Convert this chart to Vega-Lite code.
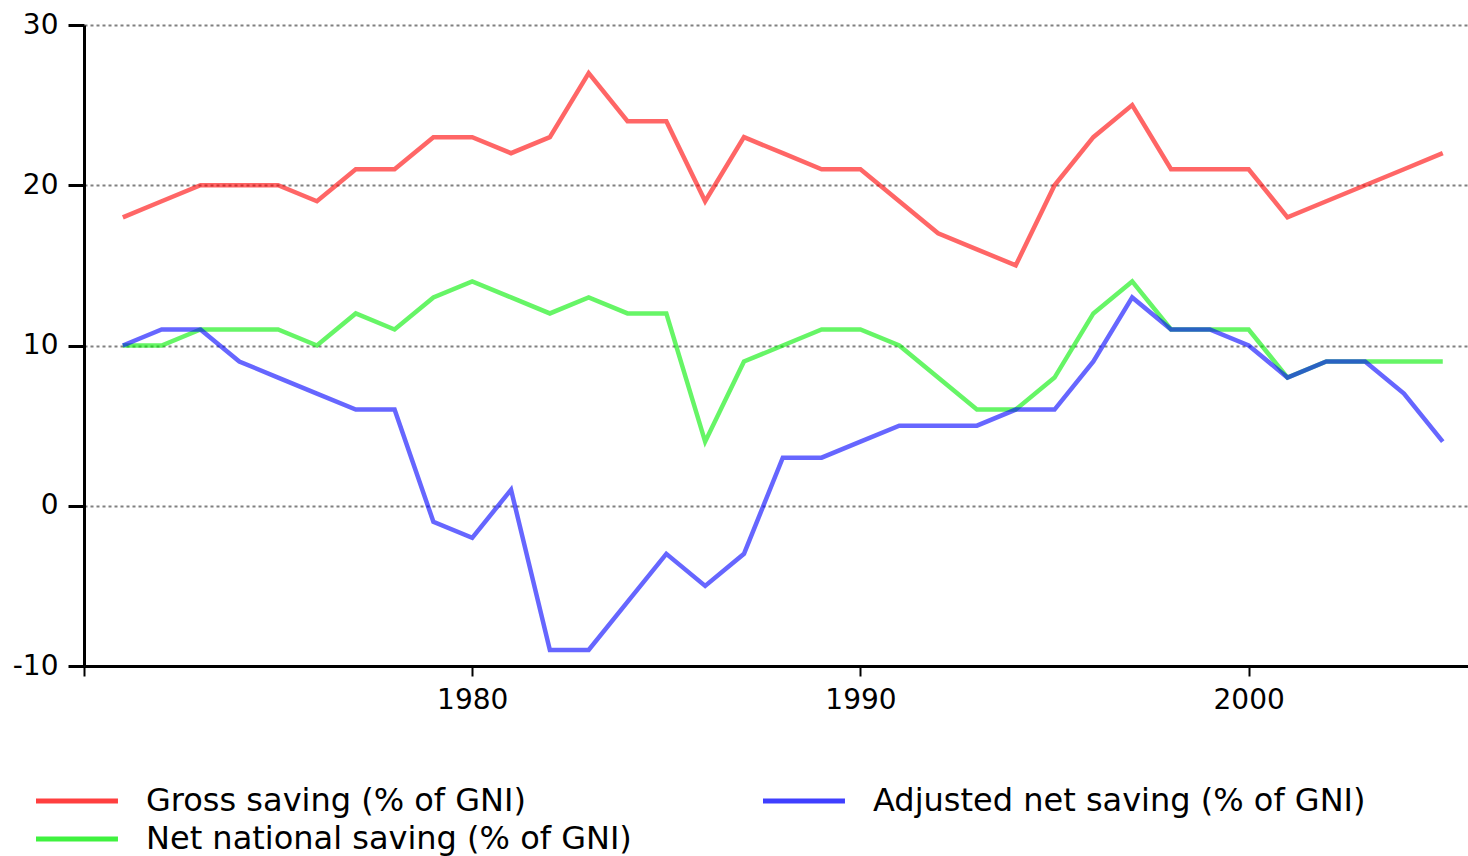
{
  "$schema": "https://vega.github.io/schema/vega-lite/v6.json",
  "width": 1384,
  "height": 641,
  "autosize": {"type": "none"},
  "padding": {"left": 84, "top": 25, "right": 0, "bottom": 190},
  "background": "white",
  "config": {
    "view": {"stroke": null},
    "font": "DejaVu Sans"
  },
  "datasets": {
    "saving": [
      {"year": 1971, "series": "Gross saving (% of GNI)", "value": 18},
      {"year": 1972, "series": "Gross saving (% of GNI)", "value": 19},
      {"year": 1973, "series": "Gross saving (% of GNI)", "value": 20},
      {"year": 1974, "series": "Gross saving (% of GNI)", "value": 20},
      {"year": 1975, "series": "Gross saving (% of GNI)", "value": 20},
      {"year": 1976, "series": "Gross saving (% of GNI)", "value": 19},
      {"year": 1977, "series": "Gross saving (% of GNI)", "value": 21},
      {"year": 1978, "series": "Gross saving (% of GNI)", "value": 21},
      {"year": 1979, "series": "Gross saving (% of GNI)", "value": 23},
      {"year": 1980, "series": "Gross saving (% of GNI)", "value": 23},
      {"year": 1981, "series": "Gross saving (% of GNI)", "value": 22},
      {"year": 1982, "series": "Gross saving (% of GNI)", "value": 23},
      {"year": 1983, "series": "Gross saving (% of GNI)", "value": 27},
      {"year": 1984, "series": "Gross saving (% of GNI)", "value": 24},
      {"year": 1985, "series": "Gross saving (% of GNI)", "value": 24},
      {"year": 1986, "series": "Gross saving (% of GNI)", "value": 19},
      {"year": 1987, "series": "Gross saving (% of GNI)", "value": 23},
      {"year": 1988, "series": "Gross saving (% of GNI)", "value": 22},
      {"year": 1989, "series": "Gross saving (% of GNI)", "value": 21},
      {"year": 1990, "series": "Gross saving (% of GNI)", "value": 21},
      {"year": 1991, "series": "Gross saving (% of GNI)", "value": 19},
      {"year": 1992, "series": "Gross saving (% of GNI)", "value": 17},
      {"year": 1993, "series": "Gross saving (% of GNI)", "value": 16},
      {"year": 1994, "series": "Gross saving (% of GNI)", "value": 15},
      {"year": 1995, "series": "Gross saving (% of GNI)", "value": 20},
      {"year": 1996, "series": "Gross saving (% of GNI)", "value": 23},
      {"year": 1997, "series": "Gross saving (% of GNI)", "value": 25},
      {"year": 1998, "series": "Gross saving (% of GNI)", "value": 21},
      {"year": 1999, "series": "Gross saving (% of GNI)", "value": 21},
      {"year": 2000, "series": "Gross saving (% of GNI)", "value": 21},
      {"year": 2001, "series": "Gross saving (% of GNI)", "value": 18},
      {"year": 2002, "series": "Gross saving (% of GNI)", "value": 19},
      {"year": 2003, "series": "Gross saving (% of GNI)", "value": 20},
      {"year": 2004, "series": "Gross saving (% of GNI)", "value": 21},
      {"year": 2005, "series": "Gross saving (% of GNI)", "value": 22},

      {"year": 1971, "series": "Net national saving (% of GNI)", "value": 10},
      {"year": 1972, "series": "Net national saving (% of GNI)", "value": 10},
      {"year": 1973, "series": "Net national saving (% of GNI)", "value": 11},
      {"year": 1974, "series": "Net national saving (% of GNI)", "value": 11},
      {"year": 1975, "series": "Net national saving (% of GNI)", "value": 11},
      {"year": 1976, "series": "Net national saving (% of GNI)", "value": 10},
      {"year": 1977, "series": "Net national saving (% of GNI)", "value": 12},
      {"year": 1978, "series": "Net national saving (% of GNI)", "value": 11},
      {"year": 1979, "series": "Net national saving (% of GNI)", "value": 13},
      {"year": 1980, "series": "Net national saving (% of GNI)", "value": 14},
      {"year": 1981, "series": "Net national saving (% of GNI)", "value": 13},
      {"year": 1982, "series": "Net national saving (% of GNI)", "value": 12},
      {"year": 1983, "series": "Net national saving (% of GNI)", "value": 13},
      {"year": 1984, "series": "Net national saving (% of GNI)", "value": 12},
      {"year": 1985, "series": "Net national saving (% of GNI)", "value": 12},
      {"year": 1986, "series": "Net national saving (% of GNI)", "value": 4},
      {"year": 1987, "series": "Net national saving (% of GNI)", "value": 9},
      {"year": 1988, "series": "Net national saving (% of GNI)", "value": 10},
      {"year": 1989, "series": "Net national saving (% of GNI)", "value": 11},
      {"year": 1990, "series": "Net national saving (% of GNI)", "value": 11},
      {"year": 1991, "series": "Net national saving (% of GNI)", "value": 10},
      {"year": 1992, "series": "Net national saving (% of GNI)", "value": 8},
      {"year": 1993, "series": "Net national saving (% of GNI)", "value": 6},
      {"year": 1994, "series": "Net national saving (% of GNI)", "value": 6},
      {"year": 1995, "series": "Net national saving (% of GNI)", "value": 8},
      {"year": 1996, "series": "Net national saving (% of GNI)", "value": 12},
      {"year": 1997, "series": "Net national saving (% of GNI)", "value": 14},
      {"year": 1998, "series": "Net national saving (% of GNI)", "value": 11},
      {"year": 1999, "series": "Net national saving (% of GNI)", "value": 11},
      {"year": 2000, "series": "Net national saving (% of GNI)", "value": 11},
      {"year": 2001, "series": "Net national saving (% of GNI)", "value": 8},
      {"year": 2002, "series": "Net national saving (% of GNI)", "value": 9},
      {"year": 2003, "series": "Net national saving (% of GNI)", "value": 9},
      {"year": 2004, "series": "Net national saving (% of GNI)", "value": 9},
      {"year": 2005, "series": "Net national saving (% of GNI)", "value": 9},

      {"year": 1971, "series": "Adjusted net saving (% of GNI)", "value": 10},
      {"year": 1972, "series": "Adjusted net saving (% of GNI)", "value": 11},
      {"year": 1973, "series": "Adjusted net saving (% of GNI)", "value": 11},
      {"year": 1974, "series": "Adjusted net saving (% of GNI)", "value": 9},
      {"year": 1975, "series": "Adjusted net saving (% of GNI)", "value": 8},
      {"year": 1976, "series": "Adjusted net saving (% of GNI)", "value": 7},
      {"year": 1977, "series": "Adjusted net saving (% of GNI)", "value": 6},
      {"year": 1978, "series": "Adjusted net saving (% of GNI)", "value": 6},
      {"year": 1979, "series": "Adjusted net saving (% of GNI)", "value": -1},
      {"year": 1980, "series": "Adjusted net saving (% of GNI)", "value": -2},
      {"year": 1981, "series": "Adjusted net saving (% of GNI)", "value": 1},
      {"year": 1982, "series": "Adjusted net saving (% of GNI)", "value": -9},
      {"year": 1983, "series": "Adjusted net saving (% of GNI)", "value": -9},
      {"year": 1984, "series": "Adjusted net saving (% of GNI)", "value": -6},
      {"year": 1985, "series": "Adjusted net saving (% of GNI)", "value": -3},
      {"year": 1986, "series": "Adjusted net saving (% of GNI)", "value": -5},
      {"year": 1987, "series": "Adjusted net saving (% of GNI)", "value": -3},
      {"year": 1988, "series": "Adjusted net saving (% of GNI)", "value": 3},
      {"year": 1989, "series": "Adjusted net saving (% of GNI)", "value": 3},
      {"year": 1990, "series": "Adjusted net saving (% of GNI)", "value": 4},
      {"year": 1991, "series": "Adjusted net saving (% of GNI)", "value": 5},
      {"year": 1992, "series": "Adjusted net saving (% of GNI)", "value": 5},
      {"year": 1993, "series": "Adjusted net saving (% of GNI)", "value": 5},
      {"year": 1994, "series": "Adjusted net saving (% of GNI)", "value": 6},
      {"year": 1995, "series": "Adjusted net saving (% of GNI)", "value": 6},
      {"year": 1996, "series": "Adjusted net saving (% of GNI)", "value": 9},
      {"year": 1997, "series": "Adjusted net saving (% of GNI)", "value": 13},
      {"year": 1998, "series": "Adjusted net saving (% of GNI)", "value": 11},
      {"year": 1999, "series": "Adjusted net saving (% of GNI)", "value": 11},
      {"year": 2000, "series": "Adjusted net saving (% of GNI)", "value": 10},
      {"year": 2001, "series": "Adjusted net saving (% of GNI)", "value": 8},
      {"year": 2002, "series": "Adjusted net saving (% of GNI)", "value": 9},
      {"year": 2003, "series": "Adjusted net saving (% of GNI)", "value": 9},
      {"year": 2004, "series": "Adjusted net saving (% of GNI)", "value": 7},
      {"year": 2005, "series": "Adjusted net saving (% of GNI)", "value": 4}
    ]
  },
  "data": {"name": "saving"},
  "mark": {"type": "line", "strokeWidth": 4.5, "strokeOpacity": 0.6, "interpolate": "linear"},
  "encoding": {
    "x": {
      "field": "year",
      "type": "quantitative",
      "scale": {"domain": [1970, 2005.65], "nice": false, "zero": false},
      "axis": {
        "title": null,
        "values": [1970, 1980, 1990, 2000],
        "format": "d",
        "labelExpr": "datum.value == 1970 ? '' : datum.label",
        "grid": false,
        "domainColor": "black",
        "domainWidth": 3,
        "tickColor": "black",
        "tickWidth": 2,
        "tickSize": 10,
        "labelFontSize": 28,
        "labelColor": "black",
        "labelPadding": 10,
        "labelFlush": false
      }
    },
    "y": {
      "field": "value",
      "type": "quantitative",
      "scale": {"domain": [-10, 30], "nice": false, "zero": false},
      "axis": {
        "title": null,
        "values": [-10, 0, 10, 20, 30],
        "labelExpr": "'' + datum.value",
        "grid": true,
        "gridColor": "#808080",
        "gridWidth": 2,
        "gridDash": [3, 3],
        "gridOpacity": 1,
        "domainColor": "black",
        "domainWidth": 3,
        "tickColor": "black",
        "tickWidth": 3,
        "tickSize": 16,
        "labelFontSize": 28,
        "labelColor": "black",
        "labelPadding": 10,
        "labelFlush": false
      }
    },
    "color": {
      "field": "series",
      "type": "nominal",
      "scale": {
        "domain": ["Gross saving (% of GNI)", "Net national saving (% of GNI)", "Adjusted net saving (% of GNI)"],
        "range": ["#ff0000", "#00ee00", "#0000ff"]
      },
      "legend": {
        "title": null,
        "orient": "none",
        "legendX": -64,
        "legendY": 760,
        "columns": 2,
        "columnPadding": 115,
        "rowPadding": 6,
        "symbolType": "M0,0H8",
        "symbolSize": 420,
        "symbolStrokeWidth": 5,
        "symbolOpacity": 0.75,
        "labelFontSize": 32,
        "labelColor": "black",
        "labelOffset": 94,
        "labelLimit": 800
      }
    }
  }
}
